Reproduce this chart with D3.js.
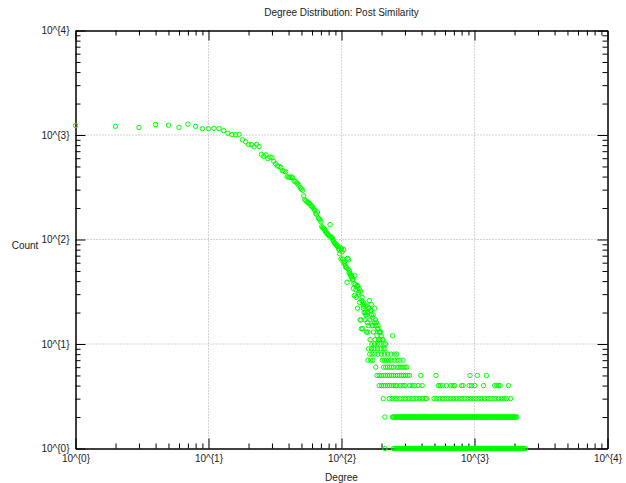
<!DOCTYPE html>
<html>
<head>
<meta charset="utf-8">
<script src="https://cdn.jsdelivr.net/npm/d3@7"></script>
<style>
  body { margin: 0; background: #fff; }
  svg text { font-family: "Liberation Sans", Arial, sans-serif; font-size: 10px; fill: #222; }
</style>
</head>
<body>
<svg id="chart" width="626" height="483"></svg>
<script>
// degree -> count, main curve (one point per degree)
const degrees = [1,2,3,4,5,6,7,8,9,10,11,12,13,14,15,16,17,18,19,20,
  21,22,23,24,25,26,27,28,29,30,31,32,33,34,35,36,37,38,39,40,
  41,42,43,44,45,46,47,48,49,50,51,52,53,54,55,56,57,58,59,60,
  61,62,63,64,65,66,67,68,69,70,71,72,73,74,75,76,77,78,79,80,
  81,82,83,84,85,86,87,88,89,90,91,92,93,94,95,96,97,98,99,100,
  101,102,103,104,105,106,107,108,109,110,111,112,113,114,115,116,117,118,119,120,
  121,122,123,124,125,126,127,128,129,130,131,132,133,134,135,136,137,138,139,140,
  141,142,143,144,145,146,147,148,149,150,151,152,153,154,155,156,157,158,159,160,
  161,162,163,164,165,166,167,168,169,170,171,172,173,174,176,177,178,179,180,181,
  183,185,186,187,188,189,190,192,193,194,195,197,199,203,205,209,215,242];
const counts = [1233,1210,1180,1260,1240,1185,1270,1210,1150,1150,1160,1150,1100,1040,1010,1005,1015,900,860,810,
  810,770,815,775,655,625,645,592,615,610,560,530,505,500,489,455,450,445,398,395,
  392,398,389,365,358,348,340,326,312,303,296,262,240,236,230,226,221,219,210,207,
  202,197,190,178,174,183,160,157,154,148,133,130,128,127,122,118,116,114,112,110,
  108,139,106,104,104,100,97,94,92,91,89,88,87,85,82,80,73,84,65,81,
  76,65,61,80,60,58,56,54,54,39,66,52,64,48,50,47,46,44,45,44,
  41,42,34,38,29,45,37,33,28,35,36,22,36,31,30,34,25,17,32,17,
  14,26,28,14,25,22,23,20,24,17,20,19,23,13,19,20,16,13,15,22,
  22,26,17,11,21,21,24,19,10,15,15,18,19,13,16,10,22,11,17,15,
  16,12,10,14,15,14,11,13,13,10,11,13,12,11,11,10,10,12];

// tail: degrees seen at each low count
const tail9 = [160,168,176,186,198,206,212];
const tail8 = [163,170,178,188,200,210,222,236,250,260];
const tail7 = [158,166,172,203,210,218,226,236,250,262,275,290];
const tail6 = [181,207,215,222,230,238,246,262,270,280,290,300,310];
const tail5 = [185,192,200,207,214,222,230,238,246,255,264,273,283,293,304,315,325,394,513,925,1050,1230];
const tail4 = [192,200,207,214,222,229,237,246,254,260,276,290,300,325,340,355,376,404,533,552,576,615,660,690,710,
  800,820,912,950,1005,1170,1420,1470,1510,1555,1800];
const tail3 = [206,229,240,252,262,275,290,303,318,334,350,368,386,405,425,436,497,520,546,574,601,632,662,696,731,
  767,805,845,888,932,978,1027,1078,1132,1189,1248,1310,1376,1445,1517,1593,1672,1740,1870];
const tail2 = [212,241,245,249,253,257,261,264,268,273,276,279,284,288,292,296,300,303,308,312,317,322,326,329,334,
  338,343,349,353,357,362,368,373,377,383,389,393,398,404,410,415,421,427,433,439,444,450,457,463,469,476,483,
  490,497,503,510,517,524,531,539,546,553,562,571,579,586,595,604,612,620,630,639,647,656,667,677,686,696,706,
  716,726,737,748,758,770,781,792,803,815,828,840,851,864,877,890,903,916,929,943,956,970,985,999,1013,1028,
  1044,1059,1075,1090,1106,1122,1139,1155,1172,1190,1208,1225,1243,1262,1281,1300,1318,1337,1357,1378,1399,
  1420,1440,1461,1483,1505,1527,1550,1573,1596,1620,1644,1668,1693,1718,1744,1770,1796,1822,1850,1877,1905,
  1933,1962,1990,2020,2050,2085];
const tail1 = [212,246,252,258,262,266,271,275,283,287,290,294,297,301,305,311,318,321,324,328,331,338,345,348,
  352,356,361,367,374,377,380,386,392,396,401,408,415,419,423,430,438,442,446,452,459,465,472,480,488,491,495,
  503,511,518,526,533,540,548,557,563,569,576,583,592,601,609,618,625,632,641,651,659,667,678,689,696,704,715,
  726,735,745,756,768,778,789,800,812,823,834,847,860,870,881,894,907,921,936,947,958,972,987,1000,1014,1030,
  1046,1059,1072,1088,1105,1122,1139,1153,1168,1185,1203,1222,1242,1259,1276,1297,1318,1334,1351,1372,1394,
  1415,1437,1456,1476,1499,1522,1545,1569,1591,1613,1637,1662,1690,1719,1741,1764,1791,1818,1845,1872,1903,
  1935,1960,1986,2016,2046,2076,2107,2138,2170,2203,2236,2263,2290,2320,2350,2415];

const majorTicks = [1, 10, 100, 1000, 10000];

const points = degrees.map((d, i) => ({deg: d, cnt: counts[i]}));
[[1, tail1], [2, tail2], [3, tail3], [4, tail4], [5, tail5], [6, tail6], [7, tail7], [8, tail8], [9, tail9]]
  .forEach(([c, list]) => list.forEach(d => points.push({deg: d, cnt: c})));

const svg = d3.select("#chart");
const mLeft = 75.5, mRight = 607.5, mTop = 30.5, mBottom = 448.5;

const x = d3.scaleLog().domain([1, 10000]).range([mLeft, mRight]);
const y = d3.scaleLog().domain([1, 10000]).range([mBottom, mTop]);

let minorTicks = [];
majorTicks.slice(0, -1).forEach(m => { for (let k = 2; k < 10; k++) minorTicks.push(m * k); });

const fmt = v => "10^{" + Math.round(Math.log10(v)) + "}";

// grid
const grid = svg.append("g").attr("stroke", "#a8a8a8").attr("stroke-dasharray", "1,2");
majorTicks.slice(1, -1).forEach(v => {
  grid.append("line").attr("x1", x(v)).attr("x2", x(v)).attr("y1", mTop).attr("y2", mBottom);
  grid.append("line").attr("x1", mLeft).attr("x2", mRight).attr("y1", y(v)).attr("y2", y(v));
});

// axes, ticks pointing inward on all four sides
function addAxis(gen, tx, ty, vals, size, labels) {
  const a = gen.tickValues(vals).tickSizeInner(size).tickSizeOuter(0).tickPadding(6)
    .tickFormat(labels ? fmt : "");
  const g = svg.append("g").attr("transform", `translate(${tx},${ty})`).call(a);
  g.select(".domain").attr("stroke", "#000");
  g.selectAll(".tick line").attr("stroke", "#000");
  g.selectAll("text").attr("font-size", 10).attr("fill", "#222")
    .attr("font-family", "Liberation Sans, Arial, sans-serif");
  return g;
}
addAxis(d3.axisBottom(x), 0, mBottom, majorTicks, -10, true);
addAxis(d3.axisBottom(x), 0, mBottom, minorTicks, -5, false);
addAxis(d3.axisTop(x), 0, mTop, majorTicks, -10, false);
addAxis(d3.axisTop(x), 0, mTop, minorTicks, -5, false);
addAxis(d3.axisLeft(y), mLeft, 0, majorTicks, -10, true);
addAxis(d3.axisLeft(y), mLeft, 0, minorTicks, -5, false);
addAxis(d3.axisRight(y), mRight, 0, majorTicks, -10, false);
addAxis(d3.axisRight(y), mRight, 0, minorTicks, -5, false);

// points
svg.append("g").selectAll("circle")
  .data(points)
  .enter()
  .append("circle")
  .attr("cx", d => x(d.deg))
  .attr("cy", d => y(d.cnt))
  .attr("r", 2.2)
  .attr("fill", "none")
  .attr("stroke", "#00ff00")
  .attr("stroke-width", 1);

// titles
svg.append("text").attr("x", (mLeft + mRight) / 2).attr("y", 16).attr("text-anchor", "middle")
  .text("Degree Distribution: Post Similarity");
svg.append("text").attr("x", (mLeft + mRight) / 2).attr("y", 481).attr("text-anchor", "middle")
  .text("Degree");
svg.append("text").attr("x", 25).attr("y", 249).attr("text-anchor", "middle")
  .text("Count");
</script>
</body>
</html>
